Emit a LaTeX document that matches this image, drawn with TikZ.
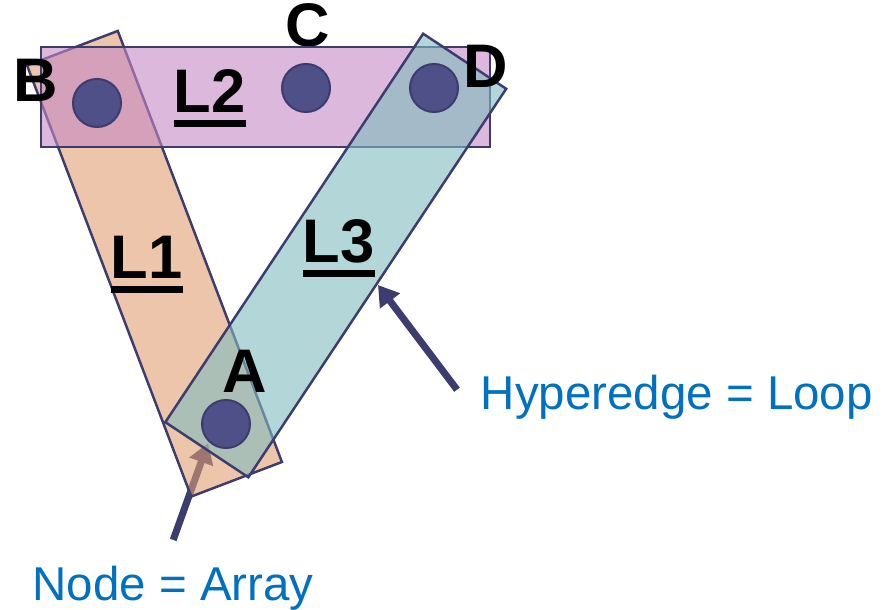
\documentclass[tikz,border=0pt]{standalone}
\usepackage{fontspec}
\setmainfont{Liberation Sans}
\usepackage{tikz}
\usetikzlibrary{arrows.meta}
\definecolor{edgeblue}{HTML}{3C3C6E}
\definecolor{dotfill}{HTML}{4F5088}
\definecolor{capblue}{HTML}{0070C0}
\definecolor{lonefill}{RGB}{223,158,113}
\definecolor{ltwofill}{RGB}{197,137,197}
\definecolor{lthreefill}{RGB}{128,188,190}
\newcommand\ulbl[1]{\sbox0{#1}\rlap{\rule[-0.14cm]{\wd0}{0.07cm}}\usebox0}

\begin{document}
\begin{tikzpicture}[x=0.01cm, y=-0.01cm,
    loopbox/.style={rectangle, draw=edgeblue, line width=0.7pt, fill opacity=0.6, inner sep=0},
    dot/.style={circle, fill=dotfill, draw=edgeblue, line width=0.02cm, minimum size=0.48cm, inner sep=0},
    letter/.style={font=\fontsize{17.5}{20}\selectfont\bfseries, inner sep=0, anchor=base},
    caption/.style={text=capblue, font=\fontsize{13.5}{16}\selectfont, inner xsep=0, inner ysep=0.25cm, anchor=base west},
    pointer/.style={-{Triangle[length=0.2cm,width=0.24cm]}, line width=0.07cm, draw=edgeblue}
]
\useasboundingbox (0,0) rectangle (886,610);
% captions and arrows
\node[caption, inner xsep=0.23cm] (hyp) at (457,409) {Hyperedge = Loop};
\node[caption] (arr) at (32,600) {Node = Array};
\coordinate (l3tip) at (378,285);
\coordinate (atip) at (208,443);
\draw[pointer] (arr.north) -- (atip);
\draw[pointer] ([yshift=0.07cm]hyp.west) -- (l3tip);
\node[letter] (lblC) at (308,47) {C};
% hyperedges
\node[loopbox, fill=lonefill, minimum width=4.61cm, minimum height=0.97cm, rotate=-69.15] (l1) at (154.5,263.75) {};
\node[loopbox, fill=ltwofill, minimum width=4.49cm, minimum height=1.0cm] (l2) at (265.5,97) {};
\node[loopbox, fill=lthreefill, minimum width=4.66cm, minimum height=0.996cm, rotate=56.43] (l3) at (335.75,255.5) {};
% labels
\node[letter] (lblB) at (36,102) {B};
\node[letter] (lblD) at (486,88) {D};
\node[letter] (lblA) at (245,393) {A};
\node[letter, anchor=base west] (tl1) at (110,279) {\ulbl{L1}};
\node[letter, anchor=base west] (tl2) at (173,113) {\ulbl{L2}};
\node[letter, anchor=base west] (tl3) at (302,263) {\ulbl{L3}};
% arrays
\node[dot] (b) at (97,103) {};
\node[dot] (c) at (306,88) {};
\node[dot] (d) at (434,88) {};
\node[dot] (a) at (226,424) {};
\end{tikzpicture}
\end{document}
